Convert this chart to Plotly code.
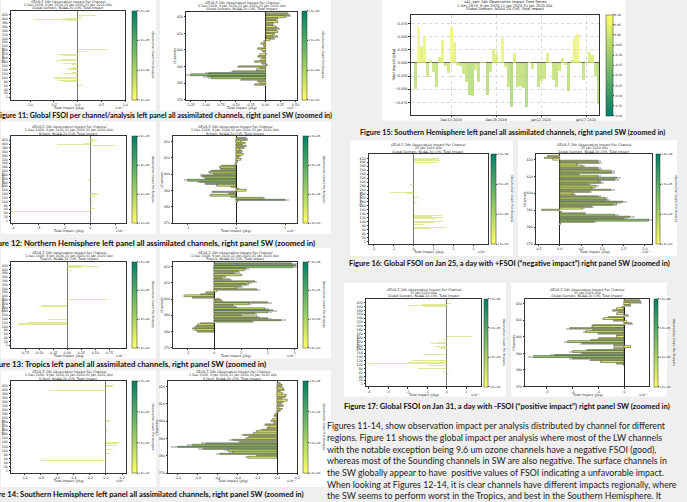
import plotly.graph_objects as go
import pandas as pd

W, H = 687, 502

# ---------------- data ----------------
# left panels: all assimilated channels (sparse: channel, impact x1e-7 J/kg)
l11_channels = [421,419,417,415,413,411,409,407,405, 401,399,397,395,393,391, 246,243,240,237,234,
                226,222,218,214,210,206, 196,192,188,184,180,176,172,168, 152,147,142,
                130,126,122,118,114, 110,107,104,101,98,95,92,89,86,83,80, 68,64,60, 48,36]
l11_values = [0.30,0.42,0.38,0.45,0.28,0.22,0.18,0.10,0.06, -0.30,-0.85,-0.92,-0.60,-1.20,-0.25,
              0.40,0.62,0.85,0.55,0.20, -0.25,-0.35,-0.42,-0.30,-0.45,-0.20,
              -0.15,-0.35,-0.45,-0.30,-0.40,-0.22,-0.30,-0.12, -0.10,-0.18,-0.22,
              -0.28,-0.12,-0.30,-0.20,-0.15, -0.55,-0.70,-0.62,-0.48,-0.65,-0.50,-0.35,-0.55,-0.42,-0.25,-0.30,
              0.10,0.15,0.08, -0.05,0.03]

l12_channels = [421,419,417,415,413,411,409,407, 401,399,397,395,393, 391,389, 290, 262, 212,208, 175,
                140,137,134,131,128,125, 102,98, 62,58, 47]
l12_values = [0.30,0.45,0.50,0.40,0.35,0.25,0.20,0.15, -0.50,-1.00,-1.50,-2.60,-1.20, 2.00,1.20, 0.10, 0.08,
              -0.30,-0.20, 0.20, 0.50,0.60,0.75,0.80,0.55,0.40, 0.30,0.20, 0.40,0.30, -6.20]

l13_channels = [421,419,417,415,413,411,409,407, 398,395, 249,246,243,240, 225,222,219, 210,206,202,
                196,192,188, 175,170,165,160, 150, 140,137,134, 130,127,124,121,
                116,113,110,107,104,101, 96,93, 64,61]
l13_values = [0.30,0.45,0.55,0.38,0.35,0.25,0.20,0.12, 0.10,0.08, 0.60,0.85,0.70,0.40, -0.20,-0.35,-0.30,
              -0.45,-0.50,-0.35, -0.55,-0.45,-0.30, -0.20,-0.15,-0.25,-0.18, -0.15, -0.45,-0.35,-0.40,
              -0.60,-0.75,-0.55,-0.70, -0.85,-0.78,-0.90,-0.70,-0.80,-0.60, -0.50,-0.40, 0.10,0.12]

l14_channels = [421,419,417,415,413,411,409,407, 401,399,397,395,393, 258,252,246,240, 196,190,
                140,137,134,131,128,125,122, 105,102, 82, 48]
l14_values = [0.05,0.08,0.10,0.11,0.07,0.06,0.04,0.03, -0.60,-0.80,-0.95,-1.00,-0.70, 0.05,0.03,0.04,0.05,
              0.02,0.03, 0.12,0.18,0.20,0.15,0.10,0.14,0.12, -0.03,0.08, 0.05, -0.80]

l16_channels = [421,419,417,415,413,411,409,407,405, 401,399,397,395, 286, 262, 258,255,252,249,246,243,240,
                220, 195, 136,133,130,127,124, 120,117,114,111, 106,103,100,97, 94,91,88,85,
                76,73,70,67, 64,61, 52]
l16_values = [0.60,1.00,1.30,1.10,1.20,0.90,0.80,1.30,0.70, 1.50,2.00,1.20,0.60, -0.20, -0.15,
              -1.30,-1.60,-1.45,-0.90,-1.20,-0.80,-0.40, 0.20, 0.15, 1.20,2.10,1.40,1.00,0.90,
              1.50,0.80,1.10,0.70, 2.00,2.60,1.40,1.00, 1.00,0.70,0.90,0.50, 2.00,3.30,1.60,1.20,
              0.80,0.50, -0.20]

l17_channels = [423,421,419,417, 413,411,409,407,405,403,401,399, 250,247,244, 232,228,224, 215,211,207,203,
                195,190,185, 160,157,154,151, 140,136,132, 122,119,116,113,110,107,104, 100,97,94,
                88,85,82,79, 70,66, 56]
l17_values = [0.50,0.60,0.30,0.20, -0.50,-1.30,-0.80,-2.00,-1.50,-3.40,-1.20,-0.60, 0.80,1.30,0.50,
              -0.20,-0.30,-0.15, -0.50,-0.80,-0.60,-0.40, -0.60,-0.30,-0.40, -1.10,-1.60,-1.20,-0.90,
              -1.20,-0.80,-1.00, -1.80,-2.40,-1.50,-2.00,-1.20,-4.00,-2.20, -2.20,-1.00,-1.60,
              -1.20,-3.40,-1.50,-1.00, -0.30,-0.20, 0.10]

# right panels: SW channels (zoomed in), listed from the top channel downwards
r11_values = [0.37,0.40,0.33,0.20,0.18,0.20,0.13,0.12,0.17,0.22,0.18,0.20,0.15,0.12,0.20,0.14,0.07,
              -0.02,-0.07,-0.03,-0.03,-0.13,-0.06,-0.04,0.01,-0.10,-0.12,-0.05,-0.08,-0.18,-0.06,0.03,
              -0.45,-0.10,-0.15,-0.55,-0.95,-1.25,-0.97,-0.90,-0.40,-0.12,-0.08,-0.18]
r12_values = [0.20,0.22,0.10,0.18,0.12,0.20,0.16,0.08,0.12,0.10,0.14,0.08,0.05,0.10,0.03,0.02,
              -0.02,-0.30,-0.33,-0.32,-0.50,-0.55,-0.45,-0.70,-0.65,-0.60,-1.00,-0.75,-0.62,-0.40,
              -0.10,0.05,0.20,-0.48,-0.15,-0.52,-0.10,0.55,1.00,0.03]
r13_values = [2.90,3.05,2.95,1.20,1.10,0.90,0.75,1.00,0.40,0.30,0.60,1.50,1.30,1.20,1.00,0.80,1.60,
              0.10,-0.30,-0.50,-1.10,-0.80,0.20,0.30,2.00,1.30,0.70,0.80,1.90,2.20,2.00,1.50,1.00,
              1.60,2.00,2.50,1.40,-0.50,-0.60,-0.70,-0.80,-0.70,-0.60]
r14_values = [0.03,0.05,0.04,0.06,0.07,0.03,0.05,0.09,0.08,0.05,0.10,0.06,0.04,0.06,0.02,0.05,0.03,
              0.01,-0.02,-0.03,0.00,-0.04,-0.06,-0.03,-0.12,-0.08,-0.10,-0.15,-0.20,-0.23,-0.34,
              -0.28,-0.30,-0.45,-0.38,-0.72,-0.85,-1.00,-0.75,-0.50,-0.45,-0.58,-0.20,-0.30]
r16_values = [-0.28,-0.35,-0.15,0.90,0.92,0.40,0.55,0.90,0.92,1.20,1.22,0.45,0.90,1.35,1.30,0.92,
              0.97,0.68,0.85,0.75,1.20,0.70,0.30,0.35,0.90,1.05,1.10,1.48,1.35,1.25,0.75,0.55,
              -0.42,0.05,0.58,1.30,1.65,1.50,2.10,0.80,0.02]
r17_values = [0.60,0.65,0.20,0.25,-0.10,-0.30,-0.45,-0.20,-0.30,0.15,-0.60,-0.80,-0.40,0.10,0.30,
              -1.20,-1.20,-2.10,-1.20,-1.50,-1.00,-0.30,-0.30,-1.00,-1.30,-2.20,-1.60,-0.40,0.25,
              -0.40,-1.40,-2.00,-1.60,-2.70,-3.50,-2.00,-1.30,-0.90,-0.30,0.00]
right_top_channel = 422

left_ticks = [1] + list(range(20, 421, 20))
right_ticks = [370, 380, 390, 400, 410, 420]
cbar_ticktext = ["1.0e+03", "1.0e+04", "1.0e+05", "1.0e+06"]

# time series (J/kg), 1 Dec 2019 - 31 Jan 2020 without 10 Jan
ts_values = [-0.050,0.068,0.033,0.051,-0.026,0.006,-0.017,-0.045,0.011,0.044,-0.006,-0.019,0.069,
             0.039,-0.003,-0.005,-0.020,-0.037,-0.060,-0.062,-0.013,-0.037,0.001,0.001,-0.060,
             -0.017,0.026,0.017,0.001,0.048,-0.007,-0.046,-0.083,0.018,-0.046,-0.043,-0.048,
             -0.083,0.001,-0.012,-0.046,-0.034,-0.031,0.018,0.001,-0.033,-0.045,-0.015,0.010,
             -0.003,-0.053,0.006,0.047,0.055,0.004,-0.032,0.001,0.021,0.016,-0.025,-0.078]
ts_dates = [d for d in pd.date_range("2019-12-01", "2020-01-31") if d != pd.Timestamp("2020-01-10")]
ts_tick_dates = ["2019-12-13", "2019-12-28", "2020-01-12", "2020-01-27"]
ts_yticks = [-0.075, -0.05, -0.025, 0.0, 0.025, 0.05, 0.075]
ts_cbar_ticks = [-0.40, -0.35, -0.30, -0.25, -0.20, -0.15, -0.10, -0.05, 0.00, 0.05, 0.10]

# ---------------- helpers ----------------
CHART_FONT = "DejaVu Sans"
DOC_FONT = "Lato"
SUMMER = [[0, "rgb(0,128,102)"], [1, "rgb(255,255,102)"]]
SUMMER_R = [[0, "rgb(255,255,102)"], [1, "rgb(0,128,102)"]]
TS = 3.3  # tiny chart text size

fig = go.Figure()
layout = {}
annotations = []
shapes = []


def fx(x):
    return x / W


def fy(y):
    return 1 - y / H


def summer(t):
    t = max(0.0, min(1.0, t))
    return "rgb(%d,%d,%d)" % (round(255 * t), round(255 * (0.5 + 0.5 * t)), 102)


def box(x0, y0, x1, y1):
    shapes.append(dict(type="rect", xref="paper", yref="paper", x0=fx(x0), x1=fx(x1),
                       y0=fy(y1), y1=fy(y0), fillcolor="white", line=dict(width=0), layer="below"))


def text(x, y, s, size, anchor="center", bold=False, font=CHART_FONT, color="#222", angle=0):
    if bold:
        s = "<b>" + s + "</b>"
    annotations.append(dict(x=fx(x), y=fy(y), xref="paper", yref="paper", text=s, showarrow=False,
                            xanchor=anchor, yanchor="middle", textangle=angle, borderpad=0,
                            font=dict(family=font, size=size, color=color)))


def colorbar_trace(k, cb, cscale, cmin, cmax, tickvals, ticktext, title, tsize=2.6):
    x0, y0, x1, y1 = cb
    cbar = dict(x=fx(x0), xanchor="left", y=fy((y0 + y1) / 2), yanchor="middle",
                len=y1 - y0, lenmode="pixels", thickness=x1 - x0,
                thicknessmode="pixels", xpad=0, ypad=0, outlinewidth=0.5,
                outlinecolor="#333", tickvals=tickvals, ticktext=ticktext,
                ticks="outside", ticklen=1, tickwidth=0.4,
                tickfont=dict(family=CHART_FONT, size=tsize, color="#222"))
    fig.add_trace(go.Scatter(
        x=[None], y=[None], mode="markers", xaxis="x%d" % k, yaxis="y%d" % k, showlegend=False,
        hoverinfo="skip",
        marker=dict(color=[cmin], colorscale=cscale, cmin=cmin, cmax=cmax, showscale=True,
                    colorbar=cbar)))
    if title:
        text(x1 + 16, (y0 + y1) / 2, title, 3.0, angle=90)


def axis_common(size=TS):
    return dict(showline=True, mirror=True, linecolor="#333", linewidth=0.6, ticks="outside",
                ticklen=1.5, tickwidth=0.4, tickcolor="#333", showgrid=False,
                tickfont=dict(family=CHART_FONT, size=size, color="#222"))


def channel_panel(k, plot, cb, kind, chans, vals, xrange, xticks, xfmt, titles):
    x0, y0, x1, y1 = plot
    if kind == "left":
        fig.add_trace(go.Bar(y=chans, x=vals, orientation="h", width=1.8, xaxis="x%d" % k,
                             yaxis="y%d" % k, showlegend=False,
                             marker=dict(color="rgba(200,212,70,0.55)", line=dict(width=0))))
        yrange, yticks = [-12, 440], left_ticks
        zcol, zw = "#777", 1.4
        ytitle_x = x0 - 8
    else:
        mx = max(abs(v) for v in vals)
        cols = [summer(1 - 0.45 * (abs(v) / mx) ** 0.8) for v in vals]
        fig.add_trace(go.Bar(y=chans, x=[v * 1.07 for v in vals], orientation="h", width=0.95,
                             xaxis="x%d" % k, yaxis="y%d" % k, showlegend=False,
                             marker=dict(color="#c8c8c8", line=dict(width=0))))
        fig.add_trace(go.Bar(y=chans, x=vals, orientation="h", width=0.8, xaxis="x%d" % k,
                             yaxis="y%d" % k, showlegend=False,
                             marker=dict(color=cols, line=dict(width=0.4, color="#222"))))
        yrange, yticks = [370, 423], right_ticks
        zcol, zw = "#222", 0.8
        ytitle_x = x0 - 11
    ax = axis_common()
    ax.update(domain=[fx(x0), fx(x1)], anchor="y%d" % k, range=xrange, tickvals=xticks,
              ticktext=[xfmt % t for t in xticks], zeroline=True, zerolinecolor=zcol,
              zerolinewidth=zw)
    ay = axis_common()
    ay.update(domain=[fy(y1), fy(y0)], anchor="x%d" % k, range=yrange, tickvals=yticks,
              zeroline=False)
    layout["xaxis%d" % k] = ax
    layout["yaxis%d" % k] = ay
    colorbar_trace(k, cb, SUMMER_R, 0, 3, [0, 1, 2, 3], cbar_ticktext, "Observation Count Per Analysis")
    cx = (x0 + x1) / 2
    text(cx, y1 + 8.2, "Total Impact (J/kg)", TS)
    text(ytitle_x, (y0 + y1) / 2, "Channels", 3.4, angle=-90)
    text(x1 + 1, y1 + 8.2, "x10⁻⁷", 3.2, anchor="right")
    for i, t in enumerate(titles):
        text(cx, y0 - 9.3 + 3.3 * i, t, 3.3)


GEOS = "GEOS-5 24h Observation Impact Per Channel"
PERIOD = "1 Dec 2019- 9 Jan 2020,11 Jan 2020-31 Jan 2020 00z"


def right_chans(vals):
    return [right_top_channel - i for i in range(len(vals))]


# ---------------- page background boxes ----------------
for b in [(0, 0, 156, 111), (160, 0, 332, 111), (0, 122, 156, 235), (160, 122, 332, 235),
          (0, 249, 156, 360), (160, 249, 332, 360), (0, 372, 156, 489), (160, 372, 332, 489),
          (383, 0, 628, 121), (351, 141, 515, 257), (520, 141, 680, 257),
          (345, 284, 508, 398), (513, 284, 670, 398)]:
    box(*b)

# ---------------- channel panels ----------------
channel_panel(1, (10, 11, 125, 100), (132, 11, 137, 100), "left", l11_channels, l11_values,
              [-1.40, 1.0], [-1.0, -0.5, 0.0, 0.5, 1.0], "%.1f",
              [GEOS, PERIOD, "Global Domain, NOAA-20 CrIS, Total Impact"])
channel_panel(2, (186, 12, 298, 100), (303, 11, 308, 100), "right", right_chans(r11_values), r11_values,
              [-1.33, 0.53], [-1.25, -1.0, -0.75, -0.5, -0.25, 0.0, 0.25, 0.5], "%.2f",
              [GEOS, PERIOD, "Global Domain, NOAA-20 CrIS, Total Impact"])
channel_panel(3, (10, 137, 126, 224), (132, 137, 137, 224), "left", l12_channels, l12_values,
              [-6.15, 2.8], [-6, -4, -2, 0, 2], "%d",
              [GEOS, PERIOD, "N.Hem, NOAA-20 CrIS, Total Impact"])
channel_panel(4, (173, 137, 298, 224), (304, 137, 309, 224), "right", right_chans(r12_values), r12_values,
              [-1.3, 1.25], [-1, 0, 1], "%d",
              [GEOS, PERIOD, "N.Hem, NOAA-20 CrIS, Total Impact"])
channel_panel(5, (10, 263, 126, 349), (132, 263, 137, 349), "left", l13_channels, l13_values,
              [-1.0, 1.05], [-0.75, -0.5, -0.25, 0.0, 0.25, 0.5, 0.75], "%.2f",
              [GEOS, PERIOD, "Tropics, NOAA-20 CrIS, Total Impact"])
channel_panel(6, (173, 263, 298, 349), (304, 263, 309, 349), "right", right_chans(r13_values), r13_values,
              [-1.55, 3.1], [-1, 0, 1, 2, 3], "%d",
              [GEOS, PERIOD, "Tropics, NOAA-20 CrIS, Total Impact"])
channel_panel(7, (10, 383, 126, 475), (132, 383, 137, 475), "left", l14_channels, l14_values,
              [-1.17, 0.25], [-1.0, -0.8, -0.6, -0.4, -0.2, 0.0, 0.2], "%.1f",
              [GEOS, PERIOD, "S.Hem, NOAA-20 CrIS, Total Impact"])
channel_panel(8, (168, 383, 298, 475), (304, 383, 309, 475), "right", right_chans(r14_values), r14_values,
              [-1.1, 0.2], [-1.0, -0.8, -0.6, -0.4, -0.2, 0.0, 0.2], "%.1f",
              [GEOS, PERIOD, "S.Hem, NOAA-20 CrIS, Total Impact"])
channel_panel(9, (370, 155, 490, 245), (493, 155, 498, 245), "left", l16_channels, l16_values,
              [-2.25, 3.75], [-2, -1, 0, 1, 2, 3], "%d",
              [GEOS, "25 Jan 2020 00z", "Global Domain, NOAA-20 CrIS, Total Impact"])
channel_panel(10, (538, 155, 655, 245), (659, 155, 663, 245), "right", right_chans(r16_values), r16_values,
              [-0.56, 2.17], [-0.5, 0.0, 0.5, 1.0, 1.5, 2.0], "%.1f",
              [GEOS, "25 Jan 2020 00z", "Global Domain, NOAA-20 CrIS, Total Impact"])
channel_panel(11, (367, 300, 483, 388), (486, 300, 490, 388), "left", l17_channels, l17_values,
              [-4.15, 1.77], [-4, -3, -2, -1, 0, 1], "%d",
              [GEOS, "31 Jan 2020 00z", "Global Domain, NOAA-20 CrIS, Total Impact"])
channel_panel(12, (527, 300, 652, 388), (657, 300, 661, 388), "right", right_chans(r17_values), r17_values,
              [-3.85, 0.96], [-3, -2, -1, 0], "%d",
              [GEOS, "31 Jan 2020 00z", "Global Domain, NOAA-20 CrIS, Total Impact"])

# ---------------- time series panel ----------------
tx0, ty0, tx1, ty1 = 412, 15, 602, 115
fig.add_trace(go.Bar(x=ts_dates, y=ts_values, xaxis="x13", yaxis="y13", width=86400000 * 0.9,
                     showlegend=False, opacity=0.75,
                     marker=dict(color=ts_values, colorscale=SUMMER, cmin=-0.40, cmax=0.10,
                                 line=dict(width=0))))
colorbar_trace(13, (609, 15, 616, 116), SUMMER, -0.40, 0.10, ts_cbar_ticks,
               ["%.2f" % v for v in ts_cbar_ticks], "", tsize=3.0)
ax = axis_common(3.5)
ax.update(domain=[fx(tx0), fx(tx1)], anchor="y13", type="date",
          range=["2019-11-29 12:00", "2020-01-31 12:00"], tickvals=ts_tick_dates,
          tickformat="%b%d %Y", showgrid=True, gridcolor="#d8d8d8", griddash="dot", gridwidth=0.5,
          zeroline=False)
ay = axis_common(3.5)
ay.update(domain=[fy(ty1), fy(ty0)], anchor="x13", range=[-0.098, 0.091], tickvals=ts_yticks,
          tickformat=".3f", showgrid=True, gridcolor="#d8d8d8", griddash="dot", gridwidth=0.5,
          zeroline=True, zerolinecolor="#666", zerolinewidth=1.0)
layout["xaxis13"] = ax
layout["yaxis13"] = ay
text(395, (ty0 + ty1) / 2, "Total Impact (J/kg)", 3.5, angle=-90)
for i, t in enumerate(["x41_swir 24h Observation Impact Time Series", PERIOD,
                       "Global Domain, NOAA-20 CrIS, Total Impact"]):
    text(507, 2.3 + 3.6 * i, t, 3.6)


# ---------------- captions ----------------
def caption(x, y, s, size, anchor):
    text(x, y, s, size, anchor=anchor, bold=True, font=DOC_FONT, color="#111")


caption(334, 115.5, "Figure 11: Global FSOI per channel/analysis left panel all assimilated channels, right panel SW (zoomed in)", 7.2, "right")
caption(317, 243.5, "Figure 12: Northern Hemisphere left panel all assimilated channels, right panel SW (zoomed in)", 7.85, "right")
caption(268, 365.5, "Figure 13: Tropics left panel all assimilated channels, right panel SW (zoomed in)", 7.9, "right")
caption(306, 496, "Figure 14: Southern Hemisphere left panel all assimilated channels, right panel SW (zoomed in)", 7.65, "right")
caption(514, 133, "Figure 15: Southern Hemisphere left panel all assimilated channels, right panel SW (zoomed in)", 7.3, "center")
caption(511, 265, "Figure 16: Global FSOI on Jan 25, a day with +FSOI (“negative impact”) right panel SW (zoomed in)", 7.4, "center")
caption(508.5, 408, "Figure 17: Global FSOI on Jan 31, a day with -FSOI (“positive impact”) right panel SW (zoomed in)", 7.6, "center")

para = [
    "Figures 11-14, show observation impact per analysis distributed by channel for different",
    "regions. Figure 11 shows the global impact per analysis where most of the LW channels",
    "with the notable exception being 9.6 um ozone channels have a negative FSOI (good),",
    "whereas most of the Sounding channels in SW are also negative. The surface channels in",
    "the SW globally appear to have  positive values of FSOI indicating a unfavorable impact.",
    "When looking at Figures 12-14, it is clear channels have different impacts regionally, where",
    "the SW seems to perform worst in the Tropics, and best in the Southern Hemisphere. It",
    "should be noted that the LW channels also behave differently by region, performing worst",
]
for i, line in enumerate(para):
    text(327, 427.5 + 11.7 * i, line, 8.8, anchor="left", font=DOC_FONT, color="#222")

layout.update(width=W, height=H, margin=dict(l=0, r=0, t=0, b=0), paper_bgcolor="#efefef",
              plot_bgcolor="white", barmode="overlay", bargap=0, showlegend=False,
              annotations=annotations, shapes=shapes)
fig.update_layout(**layout)
fig.write_html("out.html", config={"displayModeBar": False},
               post_script="document.body.style.margin='0';document.body.style.padding='0';"
                           "document.body.style.overflow='hidden';")
